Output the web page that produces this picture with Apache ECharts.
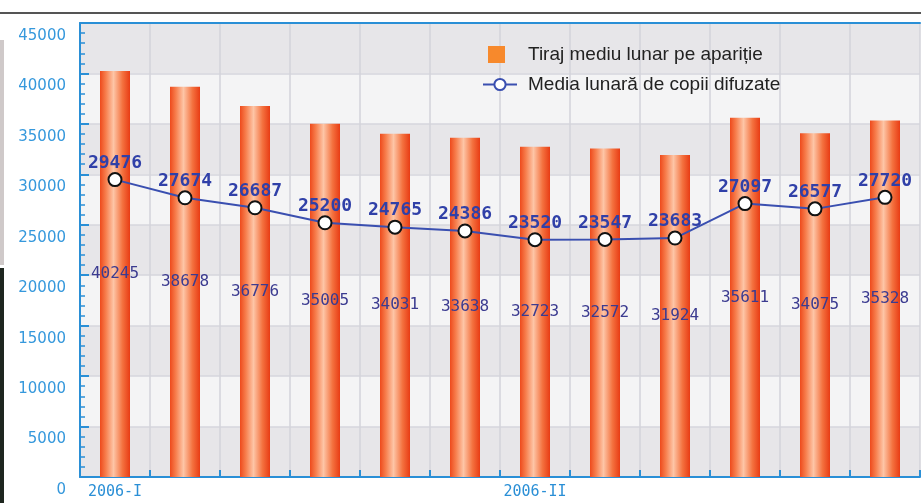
<!DOCTYPE html>
<html>
<head>
<meta charset="utf-8">
<script src="https://cdn.jsdelivr.net/npm/echarts@6/dist/echarts.min.js"></script>
<style>
  html, body { margin: 0; padding: 0; background: #fff; }
  #chart { width: 921px; height: 503px; }
</style>
</head>
<body>
<div id="chart"></div>
<script>
  // date
  var categories = ['2006-I', '', '', '', '', '', '2006-II', '', '', '', '', '']
  var tirajMediu = [40245, 38678, 36776, 35005, 34031, 33638, 32723, 32572, 31924, 35611, 34075, 35328]
  var mediaDifuzate = [29476, 27674, 26687, 25200, 24765, 24386, 23520, 23547, 23683, 27097, 26577, 27720]
  var yTicks = [0, 5000, 10000, 15000, 20000, 25000, 30000, 35000, 40000, 45000]

  var blue = '#2a8fd6'
  var lineBlue = '#3a4fb0'
  var numFont = 'DejaVu Sans Mono'
  var legendFont = { fontFamily: 'Liberation Sans', fontSize: 19, color: '#222' }

  var chart = echarts.init(document.getElementById('chart'))
  var option = {
    backgroundColor: '#fff',
    animation: false,
    graphic: [
      { type: 'rect', shape: { x: 0, y: 12, width: 921, height: 2 }, style: { fill: '#555' } },
      { type: 'rect', shape: { x: 0, y: 40, width: 4, height: 225 }, style: { fill: '#cfc9c9' } },
      { type: 'rect', shape: { x: 0, y: 268, width: 4, height: 235 }, style: { fill: '#1e261f' } }
    ],
    grid: { left: 80, right: 1, top: 23, bottom: 26, containLabel: false },
    legend: [
      {
        data: [{ name: 'Tiraj mediu lunar pe apariție', icon: 'rect', itemStyle: { color: '#f7892c' } }],
        left: 488,
        top: 45,
        padding: 0,
        itemWidth: 17,
        itemHeight: 17,
        itemGap: 0,
        selectedMode: false,
        textStyle: Object.assign({ padding: [0, 0, 0, 18] }, legendFont)
      },
      {
        data: [{ name: 'Media lunară de copii difuzate', itemStyle: { color: '#fff', borderColor: lineBlue, borderWidth: 2 } }],
        left: 482,
        top: 75,
        padding: 0,
        itemWidth: 34,
        itemHeight: 14,
        selectedMode: false,
        textStyle: Object.assign({ padding: [0, 0, 0, 6] }, legendFont)
      }
    ],
    xAxis: [
      {
        type: 'category',
        data: categories,
        axisLine: { lineStyle: { color: blue, width: 2 } },
        axisTick: { show: true, inside: true, length: 7, lineStyle: { color: blue, width: 2 } },
        axisLabel: { interval: 0, margin: 8, color: blue, fontFamily: numFont, fontSize: 15 },
        splitLine: { show: true, lineStyle: { color: '#d3d3da', width: 1.5 } }
      },
      {
        type: 'category',
        position: 'top',
        data: categories,
        axisLine: { lineStyle: { color: blue, width: 2 } },
        axisTick: { show: false },
        axisLabel: { show: false }
      }
    ],
    yAxis: {
      type: 'value',
      min: yTicks[0],
      max: yTicks[yTicks.length - 1],
      interval: 5000,
      axisLine: { show: true, lineStyle: { color: blue, width: 2 } },
      axisTick: { show: true, inside: true, length: 9, lineStyle: { color: blue, width: 2 } },
      minorTick: { show: true, splitNumber: 5, length: 5, lineStyle: { color: blue, width: 1.5 } },
      axisLabel: {
        margin: 14,
        formatter: function (v) { return '{a|' + v + '}' },
        rich: {
          a: {
            color: '#3598dc',
            fontFamily: 'DejaVu Sans',
            fontSize: 15,
            padding: [26, 0, 0, 0]
          }
        }
      },
      splitLine: { show: true, lineStyle: { color: '#d6d6dc', width: 1.5 } },
      splitArea: { show: true, areaStyle: { color: ['#e7e6e9', '#f4f4f5'] } }
    },
    series: [
      {
        name: 'Tiraj mediu lunar pe apariție',
        type: 'bar',
        data: tirajMediu,
        barWidth: 30,
        itemStyle: {
          color: new echarts.graphic.LinearGradient(0, 0, 1, 0, [
            { offset: 0, color: '#ee4a1c' },
            { offset: 0.2, color: '#f7804f' },
            { offset: 0.45, color: '#fdc5a6' },
            { offset: 0.75, color: '#f4723f' },
            { offset: 1, color: '#e83c14' }
          ])
        },
        label: {
          show: true,
          position: 'inside',
          color: '#3b3b90',
          fontFamily: numFont,
          fontSize: 16
        },
        z: 2
      },
      {
        name: 'Media lunară de copii difuzate',
        type: 'line',
        data: mediaDifuzate,
        symbol: 'circle',
        symbolSize: 13,
        lineStyle: { color: lineBlue, width: 2 },
        itemStyle: { color: '#fff', borderColor: '#111', borderWidth: 2 },
        label: {
          show: true,
          position: 'top',
          distance: 0,
          color: '#3040a8',
          fontFamily: numFont,
          fontWeight: 'bold',
          fontSize: 18
        },
        z: 3
      }
    ]
  }
  chart.setOption(option)
</script>
</body>
</html>
